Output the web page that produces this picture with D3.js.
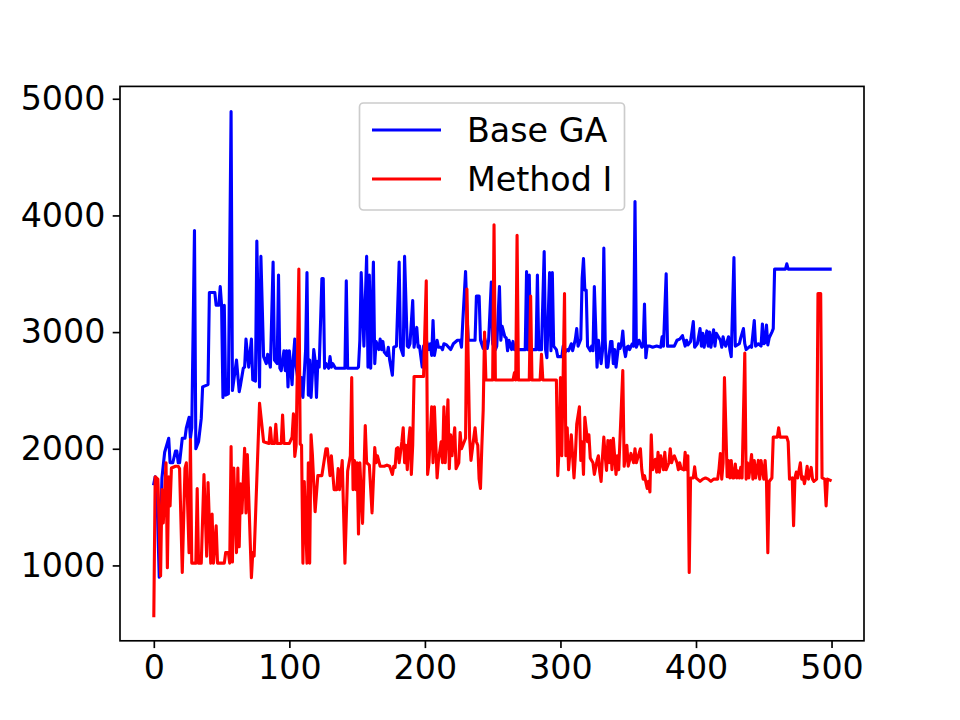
<!DOCTYPE html>
<html>
<head>
<meta charset="utf-8">
<script src="https://cdn.jsdelivr.net/npm/d3@7"></script>
<style>
  body { margin: 0; background: #fff; }
  text { font-family: "DejaVu Sans", sans-serif; }
</style>
</head>
<body>
<div id="chart"></div>
<script>
// [generation, fitness] vertices
const baseGA = [
  [0,1700],[1,1760],[2,1740],[4,900],[6,1750],[8,1970],[11,2090],[12,1880],[14,1880],[16,1980],
  [17,1980],[18,1880],[19,1880],[21,2090],[23,2090],[24,2180],[26,2270],[27,2090],[28,2180],[30,3870],
  [31,2000],[33,2060],[35,2260],[36,2530],[40,2550],[41,3340],[45,3340],[46,3230],[48,3230],[49,3390],
  [50,3230],[51,2440],[52,3230],[53,2460],[55,2470],[57,4890],[58,2500],[61,2760],[63,2490],[64,2550],
  [66,2690],[67,2700],[68,2940],[70,2700],[72,2940],[73,2590],[75,2580],[76,3780],[78,2530],[79,3650],
  [81,2790],[83,2730],[84,2810],[86,2700],[88,3600],[89,2760],[91,2730],[92,3490],[93,2690],[94,2670],
  [96,2840],[97,2670],[98,2840],[99,2530],[100,2840],[102,2550],[103,2790],[104,2940],[105,2700],[108,2460],
  [109,2610],[110,2440],[112,2850],[113,3510],[114,2460],[115,2760],[116,2440],[118,2850],[119,2760],[120,2440],
  [121,2750],[122,2700],[124,3460],[125,3460],[126,2690],[127,2730],[129,2690],[130,2790],[131,2700],[132,2730],
  [134,2690],[141,2690],[142,3440],[143,2690],[150,2690],[151,2700],[152,2930],[153,3510],[155,2880],[157,3650],
  [158,2700],[159,3490],[160,2690],[162,3600],[163,2730],[164,2920],[166,2850],[167,2940],[168,2850],[169,2920],
  [170,2830],[172,2800],[173,2870],[174,2760],[176,2630],[177,2870],[179,2880],[181,3600],[182,2870],[184,2800],
  [185,3650],[187,2880],[188,2870],[189,2900],[191,3270],[192,2870],[194,3040],[195,2870],[196,2880],[198,2700],
  [199,2880],[200,2830],[201,2930],[203,2850],[204,2900],[205,2800],[206,3100],[207,2800],[209,2930],[210,2870],
  [212,2870],[213,2850],[214,2900],[216,2890],[219,2850],[221,2900],[224,2930],[226,2930],[227,2870],[228,3100],
  [230,3520],[231,3160],[232,2930],[237,2930],[238,3310],[240,3310],[241,2930],[243,2860],[244,2950],[246,2860],
  [247,2930],[249,3430],[250,2900],[252,2850],[253,2880],[255,3390],[256,2930],[257,3050],[259,2960],[260,2950],
  [261,2840],[262,2930],[264,2850],[265,2920],[266,2850],[274,2850],[275,3520],[276,2850],[277,3490],[278,2850],
  [282,2850],[283,3490],[284,2850],[286,2850],[288,3690],[289,2850],[290,2780],[292,3510],[293,2840],[294,3510],
  [295,2880],[297,2850],[298,2790],[301,2790],[302,2880],[303,2820],[305,2850],[306,2840],[308,2900],[309,2840],
  [311,2940],[312,3030],[313,2880],[315,2940],[316,3460],[317,3630],[318,3360],[319,3360],[320,2880],[322,2840],
  [323,2880],[324,2840],[325,3390],[327,2700],[328,2930],[329,2840],[330,2730],[331,2840],[332,3720],[333,2930],
  [334,2700],[335,2700],[337,2920],[338,2920],[339,2730],[340,2850],[341,2700],[343,2900],[344,2860],[345,2900],
  [346,3010],[347,2850],[348,2790],[349,2870],[350,2880],[351,2850],[353,2900],[354,2880],[355,4120],[356,2870],
  [357,2900],[358,2930],[360,2870],[361,2880],[362,3240],[363,2780],[364,2880],[366,2880],[368,2870],[371,2880],
  [374,2870],[375,2960],[376,2880],[378,3500],[379,2880],[384,2880],[386,2930],[388,2940],[390,2970],[392,2880],
  [393,2930],[394,2890],[396,2920],[398,3090],[399,2870],[401,2900],[403,3030],[404,2880],[405,2990],[406,2870],
  [408,3010],[409,2880],[410,3000],[411,2870],[413,3020],[414,2880],[415,2990],[418,2930],[419,2870],[420,2960],
  [421,2900],[422,2880],[424,2960],[425,2850],[426,2790],[428,3640],[429,2880],[432,2900],[433,2950],[435,3030],
  [436,2900],[437,2850],[438,2860],[440,2880],[441,2870],[443,3100],[444,2880],[446,2900],[448,2880],[449,3070],
  [450,2900],[451,2910],[452,3060],[453,2890],[454,2950],[456,3000],[457,3030],[458,3540],[466,3540],[467,3585],
  [468,3540],[499,3540]
];

const methodI = [
  [0,570],[1,1760],[3,1740],[5,910],[6,1650],[7,1365],[9,1880],[10,980],[11,1760],[12,1510],
  [13,1835],[16,1850],[18,1850],[19,1830],[21,940],[23,1835],[24,1880],[26,1110],[27,2080],[28,1020],
  [31,1020],[32,1660],[33,1020],[35,1020],[37,1780],[39,1080],[40,1710],[42,1020],[43,1440],[44,1020],
  [46,1340],[47,1020],[52,1020],[53,1110],[55,1110],[56,1020],[57,2020],[58,1030],[59,1835],[61,1110],
  [62,1835],[63,1160],[64,1700],[65,1450],[67,2005],[68,1450],[69,1950],[70,1600],[72,895],[73,1110],
  [74,1080],[76,1740],[78,2390],[81,2060],[85,2045],[86,2180],[87,2045],[89,2045],[90,2210],[91,2045],
  [94,2045],[95,2290],[96,2045],[100,2045],[102,2100],[103,2300],[104,1935],[105,2030],[107,3540],[108,2040],
  [109,2030],[110,1020],[111,1720],[113,1020],[114,1880],[115,1020],[116,2120],[117,1950],[119,1460],[121,1770],
  [124,1770],[127,2000],[128,2000],[130,1770],[131,1940],[133,1650],[135,1650],[136,1830],[137,1650],[139,1900],
  [141,1020],[143,1810],[145,1940],[146,2610],[147,1650],[148,1900],[149,1650],[150,1880],[151,1270],[152,1880],
  [154,1360],[156,2200],[157,1880],[159,1860],[161,1450],[163,2010],[164,1880],[165,1940],[167,1850],[170,1850],
  [172,1860],[174,1850],[176,1780],[177,1850],[178,1840],[179,2000],[180,2010],[181,1880],[183,2060],[184,2180],
  [185,1880],[186,2030],[187,1820],[188,2060],[189,2180],[190,1780],[191,2030],[192,2620],[199,2620],[201,3440],
  [202,1780],[203,1880],[205,2360],[206,1880],[207,2360],[209,1750],[210,1900],[212,2060],[213,1880],[214,2360],
  [215,1880],[217,2420],[218,1830],[219,2120],[220,1940],[222,2180],[223,1830],[225,1880],[226,2140],[227,2000],
  [230,2090],[231,3370],[233,2090],[234,1900],[236,2090],[237,2180],[238,2060],[239,2030],[240,1740],[241,1660],
  [242,2020],[243,2330],[244,3000],[245,2590],[250,2590],[251,3920],[252,2590],[265,2590],[266,2650],[267,2590],
  [268,3830],[269,2590],[277,2590],[278,3310],[279,2590],[285,2590],[286,2810],[287,2590],[297,2590],[298,1770],
  [299,2000],[300,2610],[301,1940],[303,3330],[304,1940],[305,2180],[306,1820],[308,2120],[310,1750],[311,1940],
  [312,2210],[314,2360],[315,1900],[316,2060],[317,1780],[318,2270],[320,2060],[321,2120],[322,1920],[324,1880],
  [325,1780],[327,1900],[328,1940],[329,1800],[330,1720],[331,1930],[332,2100],[333,1940],[334,1815],[335,2070],
  [336,1880],[337,2070],[338,1820],[339,2090],[341,1780],[342,1940],[343,1820],[346,2670],[347,1850],[349,2030],
  [350,1850],[351,1900],[352,1960],[354,1880],[355,2000],[356,1880],[357,1920],[359,2000],[360,1820],[361,1740],
  [362,1770],[364,1660],[365,1720],[366,1630],[367,2120],[368,1820],[370,1910],[371,1800],[372,1970],[373,1800],
  [374,1940],[376,1820],[377,1970],[378,1820],[380,1880],[381,2000],[382,1880],[383,1920],[384,1940],[386,1880],
  [387,1820],[388,1880],[389,1830],[391,1820],[392,1970],[393,1820],[394,1940],[395,940],[396,1750],[398,1750],
  [399,1845],[400,1750],[403,1720],[405,1740],[407,1750],[409,1740],[411,1720],[413,1740],[416,1740],[417,1830],
  [418,1960],[419,1740],[420,1880],[421,2610],[423,1760],[424,1900],[425,1750],[426,1900],[427,1750],[428,1750],
  [429,1870],[430,1750],[431,1810],[432,1750],[433,1840],[434,1750],[436,2820],[437,1740],[438,1880],[439,1750],
  [441,1950],[442,1740],[443,1900],[444,1750],[446,1900],[447,1740],[448,1900],[450,1740],[451,1900],[452,1720],
  [453,1110],[454,1720],[456,1750],[457,2100],[460,2100],[461,2180],[462,2100],[467,2100],[468,2060],[469,1740],
  [471,1750],[472,1340],[473,1750],[474,1800],[475,1750],[477,1880],[478,1740],[479,1760],[480,1700],[481,1760],
  [482,1850],[483,1740],[485,1840],[486,1740],[487,1720],[489,1740],[490,3330],[492,3330],[493,1750],[495,1740],
  [496,1510],[497,1740],[499,1730]
];

const xTicks = [0, 100, 200, 300, 400, 500];
const yTicks = [1000, 2000, 3000, 4000, 5000];
const seriesNames = ["Base GA", "Method I"];
const seriesColors = ["#0000ff", "#ff0000"];

const width = 960, height = 720;
const margin = {left: 120, right: 96, top: 86.4, bottom: 79.2};
const fontSize = 33.3;

const svg = d3.select("#chart").append("svg")
    .attr("width", width)
    .attr("height", height);

// matplotlib style 5% margins
const xMin = 0, xMax = 499;
const xPad = (xMax - xMin) * 0.05;
const allY = baseGA.concat(methodI).map(d => d[1]);
const yMin = d3.min(allY), yMax = d3.max(allY);
const yPad = (yMax - yMin) * 0.05;

const x = d3.scaleLinear()
    .domain([xMin - xPad, xMax + xPad])
    .range([margin.left, width - margin.right]);
const y = d3.scaleLinear()
    .domain([yMin - yPad, yMax + yPad])
    .range([height - margin.bottom, margin.top]);

const line = d3.line().x(d => x(d[0])).y(d => y(d[1]));

[baseGA, methodI].forEach((data, i) => {
    svg.append("path")
        .datum(data)
        .attr("d", line)
        .attr("fill", "none")
        .attr("stroke", seriesColors[i])
        .attr("stroke-width", 3.1)
        .attr("stroke-linejoin", "round")
        .attr("stroke-linecap", "square");
});

const xAxis = svg.append("g")
    .attr("transform", `translate(0,${height - margin.bottom})`)
    .call(d3.axisBottom(x).tickValues(xTicks).tickFormat(d3.format("d")).tickSize(7.3).tickPadding(7.3));
const yAxis = svg.append("g")
    .attr("transform", `translate(${margin.left},0)`)
    .call(d3.axisLeft(y).tickValues(yTicks).tickFormat(d3.format("d")).tickSize(7.3).tickPadding(7.3));

[xAxis, yAxis].forEach(g => {
    g.select(".domain").remove();
    g.selectAll(".tick line").attr("stroke", "#000").attr("stroke-width", 1.67);
    g.selectAll(".tick text")
        .attr("fill", "#000")
        .style("font-size", fontSize + "px")
        .style("font-family", "'DejaVu Sans', sans-serif");
});

// frame
svg.append("rect")
    .attr("x", margin.left)
    .attr("y", margin.top)
    .attr("width", width - margin.left - margin.right)
    .attr("height", height - margin.top - margin.bottom)
    .attr("fill", "none")
    .attr("stroke", "#000")
    .attr("stroke-width", 1.67);

// legend
const legend = svg.append("g");
legend.append("rect")
    .attr("x", 359.5).attr("y", 103)
    .attr("width", 265).attr("height", 107)
    .attr("rx", 4)
    .attr("fill", "#fff").attr("fill-opacity", 0.8)
    .attr("stroke", "#cccccc").attr("stroke-width", 1.67);

seriesNames.forEach((name, i) => {
    const yy = 130 + i * 49;
    legend.append("line")
        .attr("x1", 372).attr("x2", 441)
        .attr("y1", yy).attr("y2", yy)
        .attr("stroke", seriesColors[i])
        .attr("stroke-width", 3.1);
    legend.append("text")
        .attr("x", 467).attr("y", yy + 12)
        .style("font-size", fontSize + "px")
        .attr("fill", "#000")
        .text(name);
});
</script>
</body>
</html>
